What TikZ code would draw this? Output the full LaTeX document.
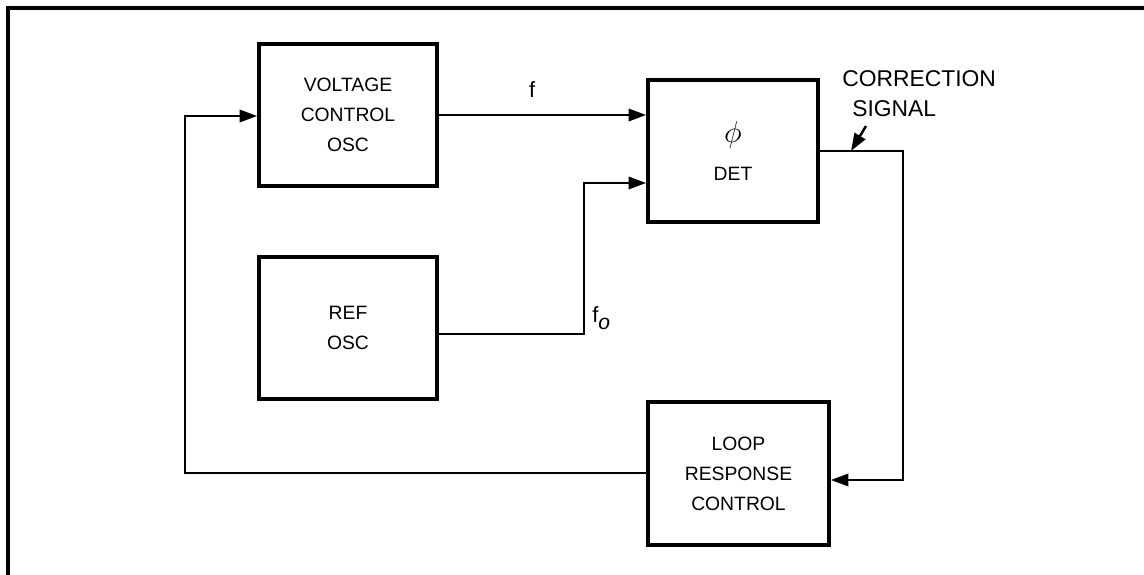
\documentclass[tikz,border=0pt]{standalone}
\usepackage{fontspec}
\setmainfont{Liberation Sans}
\usetikzlibrary{arrows.meta}
\begin{document}
\begin{tikzpicture}[x=0.02cm,y=-0.02cm,
  blockbox/.style={draw,line width=2.1pt,minimum width=178*0.02cm,minimum height=142*0.02cm,align=center,font=\fontsize{11}{17}\selectfont,inner sep=0pt},
  conn/.style={line width=1.4pt,-{Triangle[length=10pt,width=7pt]}},
  lbl/.style={font=\fontsize{12.5}{14}\selectfont,inner sep=0pt}]
\useasboundingbox (0,0) rectangle (1144,575);
\draw[line width=2pt] (8,575) -- (8,8) -- (1144,8);
\node[blockbox] (vco) at (348,115) {VOLTAGE\\CONTROL\\OSC};
\node[blockbox,minimum width=170*0.02cm] (det) at (733,151) {{\fontsize{17}{17}\selectfont$\phi$}\\[5pt]DET};
\node[blockbox] (ref) at (348,328) {REF\\OSC};
\node[blockbox,minimum width=181*0.02cm,minimum height=143*0.02cm] (loop) at (738.5,473.5) {LOOP\\RESPONSE\\CONTROL};
\coordinate (fo) at (584,334);
\coordinate (cs) at (903,151);
\coordinate (fb) at (185,473);
\draw[conn] (vco.east |- 0,115) -- (det.west |- 0,115) node[lbl,pos=0.45,above=9pt] {f};
\draw[conn] (ref.east |- fo) -- (fo) -- (fo |- 0,183) -- (det.west |- 0,183);
\node[lbl,anchor=west] (folbl) at (592,318) {f\raisebox{-4pt}{\large$\mathit{o}$}};
\draw[conn] (det.east |- cs) -- (cs) -- (cs |- 0,480) -- (loop.east |- 0,480);
\draw[conn] (loop.west |- fb) -- (fb) -- (fb |- 0,116) -- (vco.west |- 0,116);
\node[lbl,anchor=west,font=\fontsize{13}{15}\selectfont] (corr) at (842,79) {CORRECTION};
\node[lbl,anchor=west,font=\fontsize{13}{15}\selectfont] (sig) at (852,109) {SIGNAL};
\coordinate (csa) at (851,151);
\draw[conn] (866,126) -- (csa);
\end{tikzpicture}
\end{document}
